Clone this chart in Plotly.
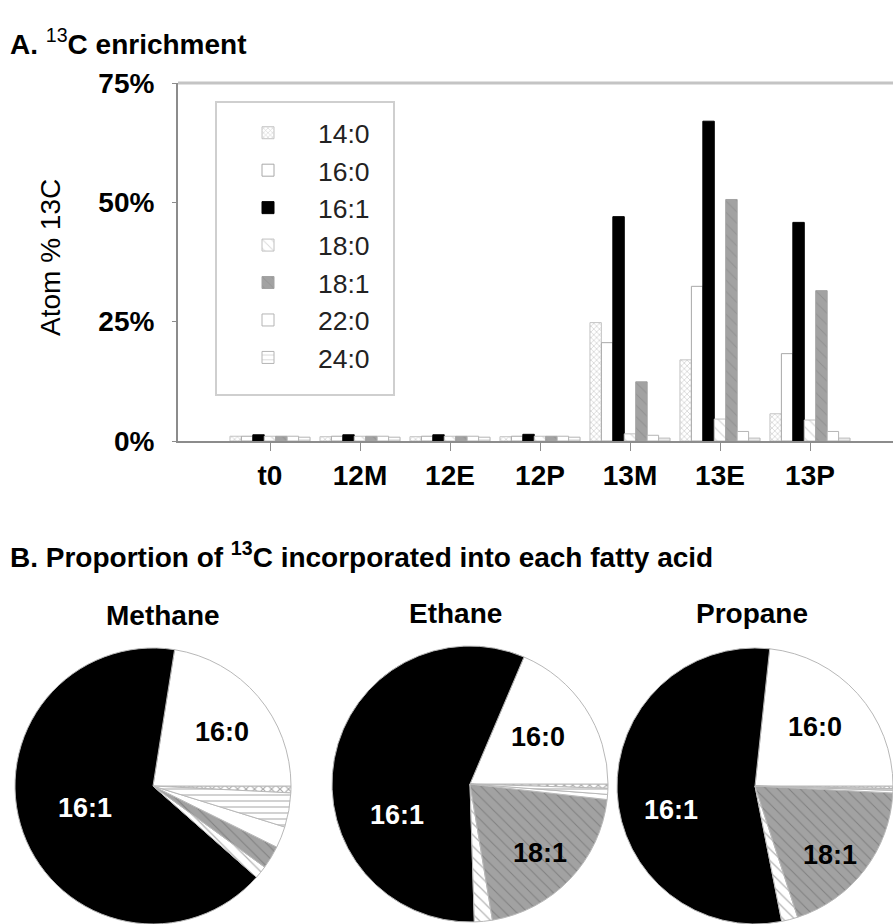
import plotly.graph_objects as go

# ---------------- data ----------------
categories = ["t0", "12M", "12E", "12P", "13M", "13E", "13P"]
fatty_acids = ["14:0", "16:0", "16:1", "18:0", "18:1", "22:0", "24:0"]

enr_14_0 = [1.0, 0.9, 0.9, 0.9, 24.8, 17.0, 5.7]
enr_16_0 = [1.0, 1.0, 1.0, 1.0, 20.6, 32.4, 18.3]
enr_16_1 = [1.3, 1.3, 1.3, 1.4, 47.0, 67.0, 45.8]
enr_18_0 = [1.0, 1.0, 1.0, 1.0, 1.5, 4.6, 4.4]
enr_18_1 = [1.0, 1.0, 1.0, 1.0, 12.4, 50.6, 31.5]
enr_22_0 = [1.0, 1.0, 1.0, 1.0, 1.2, 2.0, 2.0]
enr_24_0 = [0.8, 0.8, 0.8, 0.8, 0.6, 0.6, 0.6]

pie_names = ["Methane", "Ethane", "Propane"]
prop_methane = [0.8, 22.5, 66.0, 1.5, 2.7, 2.5, 4.0]
prop_ethane = [0.5, 18.6, 56.9, 2.1, 20.6, 0.6, 0.7]
prop_propane = [0.3, 23.3, 54.8, 1.9, 19.2, 0.3, 0.2]

# ---------------- styles ----------------
W, H = 893, 924
FONT = "Liberation Sans"


def px(x):
    return x / W


def py(y):
    return 1 - y / H


styles = {
    "14:0": dict(color="white", pattern=dict(shape="x", fgcolor="#a8a8a8", size=4, solidity=0.35),
                 line=dict(color="#c4c4c4", width=1)),
    "16:0": dict(color="white", line=dict(color="#a8a8a8", width=1)),
    "16:1": dict(color="black", line=dict(color="black", width=1)),
    "18:0": dict(color="white", pattern=dict(shape="\\", fgcolor="#b4b4b4", size=8, solidity=0.15),
                 line=dict(color="#c0c0c0", width=1)),
    "18:1": dict(color="#a2a2a2", pattern=dict(shape="\\", fgcolor="#808080", size=8, solidity=0.12),
                 line=dict(color="#a2a2a2", width=1)),
    "22:0": dict(color="white", line=dict(color="#b4b4b4", width=1)),
    "24:0": dict(color="white", pattern=dict(shape="-", fgcolor="#b4b4b4", size=6, solidity=0.2),
                 line=dict(color="#b4b4b4", width=1)),
}

series = [enr_14_0, enr_16_0, enr_16_1, enr_18_0, enr_18_1, enr_22_0, enr_24_0]

fig = go.Figure()

for name, vals in zip(fatty_acids, series):
    st = styles[name]
    marker = dict(color=st["color"], line=st["line"])
    if "pattern" in st:
        marker["pattern"] = dict(st["pattern"], bgcolor=st["color"])
    fig.add_trace(go.Bar(x=categories, y=vals, name=name, marker=marker,
                         xaxis="x", yaxis="y"))

# pies
pie_colors = [styles[f]["color"] for f in fatty_acids]
pie_patterns = dict(
    shape=[styles[f].get("pattern", {}).get("shape", "") for f in fatty_acids],
    fgcolor=[styles[f].get("pattern", {}).get("fgcolor", "#000000") for f in fatty_acids],
    bgcolor=pie_colors,
    size=[max(styles[f].get("pattern", {}).get("size", 8), 6) for f in fatty_acids],
    solidity=[styles[f].get("pattern", {}).get("solidity", 0.3) for f in fatty_acids],
    fillmode="replace",
)

pie_geo = [  # centre x, centre y, radius in px
    (153, 786, 138),
    (470, 784, 138),
    (755, 786, 138),
]
for vals, (cx, cy, r) in zip([prop_methane, prop_ethane, prop_propane], pie_geo):
    fig.add_trace(go.Pie(
        labels=fatty_acids, values=vals, sort=False, direction="counterclockwise",
        rotation=90, textinfo="none", hoverinfo="label+percent", showlegend=False,
        automargin=False,
        marker=dict(colors=pie_colors, pattern=pie_patterns,
                    line=dict(color="#b8b8b8", width=1)),
        domain=dict(x=[px(cx - r), px(cx + r)], y=[py(cy + r), py(cy - r)]),
    ))

# ---------------- layout ----------------
ann = []
ann.append(dict(text="<b>A.</b> <sup>13</sup><b>C enrichment</b>", x=px(8), y=py(42),
                xref="paper", yref="paper", xanchor="left", yanchor="middle", showarrow=False,
                font=dict(family=FONT, size=28, color="black")))
ann.append(dict(text="<b>B.</b> <b>Proportion of <sup>13</sup>C incorporated into each fatty acid</b>",
                x=px(8), y=py(555), xref="paper", yref="paper", xanchor="left", yanchor="middle",
                showarrow=False, font=dict(family=FONT, size=28, color="black")))
ann.append(dict(text="Atom % 13C", x=px(50), y=py(258), xref="paper", yref="paper",
                xanchor="center", yanchor="middle", textangle=-90, showarrow=False,
                font=dict(family=FONT, size=28, color="black")))
for nm, (tx, ty) in zip(pie_names, [(163, 615), (456, 613), (752, 613)]):
    ann.append(dict(text=f"<b>{nm}</b>", x=px(tx), y=py(ty), xref="paper", yref="paper",
                    xanchor="center", yanchor="middle", showarrow=False,
                    font=dict(family=FONT, size=28, color="black")))

pie_labels = [
    ("16:0", 222, 732, "black"), ("16:1", 85, 808, "white"),
    ("16:0", 538, 737, "black"), ("16:1", 397, 815, "white"), ("18:1", 540, 853, "black"),
    ("16:0", 815, 727, "black"), ("16:1", 671, 810, "white"), ("18:1", 830, 855, "black"),
]
for t, tx, ty, c in pie_labels:
    ann.append(dict(text=f"<b>{t}</b>", x=px(tx), y=py(ty), xref="paper", yref="paper",
                    xanchor="center", yanchor="middle", showarrow=False,
                    font=dict(family=FONT, size=27, color=c)))

x0_px, x1_px = 178, W
slot = 90.0
r0 = -(270 - x0_px) / slot
r1 = r0 + (x1_px - x0_px) / slot

fig.update_layout(
    width=W, height=H,
    margin=dict(l=0, r=0, t=0, b=0, autoexpand=False),
    paper_bgcolor="white", plot_bgcolor="white",
    barmode="group", bargap=0.11, bargroupgap=0,
    font=dict(family=FONT, size=27, color="black"),
    xaxis=dict(domain=[px(x0_px), px(x1_px)], range=[r0, r1], type="category",
               automargin=False,
               showline=True, linecolor="#8c8c8c", linewidth=2,
               ticks="outside", ticklen=8, tickcolor="#8c8c8c", tickwidth=1,
               tickfont=dict(family=FONT, size=28, weight="bold", color="black"),
               showgrid=False, zeroline=False, fixedrange=True),
    yaxis=dict(domain=[py(441), py(83)], range=[0, 75], dtick=25, ticksuffix="%",
               automargin=False,
               showline=True, linecolor="#8c8c8c", linewidth=2,
               ticks="outside", ticklen=4, tickcolor="#8c8c8c",
               tickfont=dict(family=FONT, size=28, weight="bold", color="black"),
               ticklabelstandoff=12,
               showgrid=False, zeroline=False, fixedrange=True),
    legend=dict(x=px(218), y=py(109), xanchor="left", yanchor="top",
                borderwidth=0, bgcolor="rgba(0,0,0,0)",
                font=dict(family=FONT, size=26.5, color="#222222"),
                itemwidth=90, traceorder="normal"),
    annotations=ann,
    shapes=[
        dict(type="line", xref="paper", yref="paper", x0=px(x0_px), x1=1,
             y0=py(83), y1=py(83), line=dict(color="#c4c4c4", width=3), layer="above"),
        # legend frame
        dict(type="rect", xref="paper", yref="paper", x0=px(216), x1=px(394),
             y0=py(395), y1=py(102), line=dict(color="#cfcfcf", width=2),
             fillcolor="rgba(0,0,0,0)", layer="above"),
    ],
)

fig.write_html("out.html", config={"displayModeBar": False},
               post_script="document.body.style.margin='0';document.body.style.overflow='hidden';")
